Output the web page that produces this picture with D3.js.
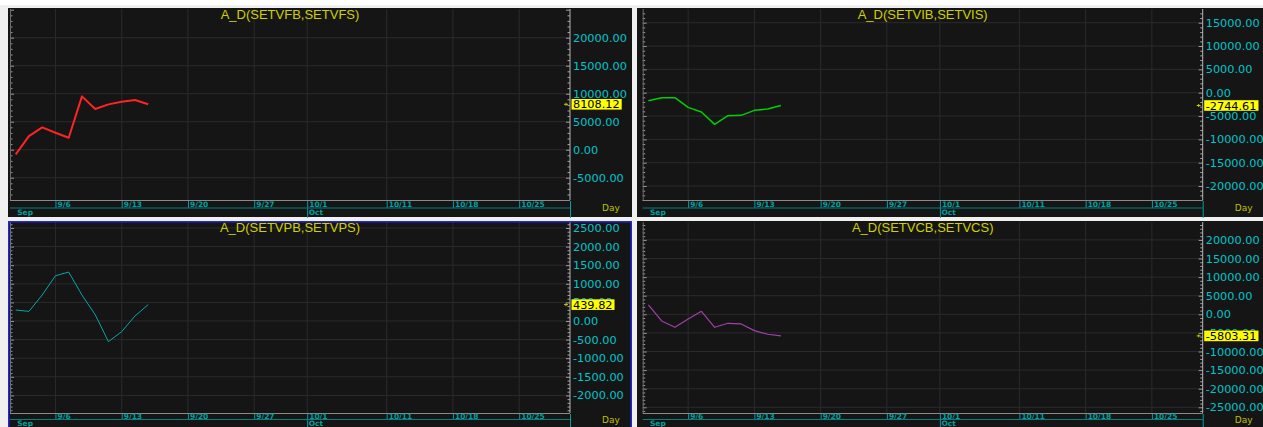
<!DOCTYPE html>
<html lang="en">
<head>
  <meta charset="UTF-8"/>
  <title>A_D panels</title>
  <script src="https://cdn.jsdelivr.net/npm/d3@7"></script>
  <style>
    html, body { margin: 0; padding: 0; background: #f0f0f0; overflow: hidden; }
    svg { display: block; }
  </style>
</head>
<body>
<svg id="chart" width="1263" height="427"></svg>
<script>
  // trading days that carry data
  const dates = ['9/1', '9/2', '9/3', '9/6', '9/7', '9/8', '9/9', '9/10', '9/13', '9/14', '9/15'];

  // series
  const vfbValues = [-833, 2440, 3988, 3036, 2143, 9524, 7262, 8095, 8571, 8869, 8108.12];
  const vibValues = [-1714, -1071, -1071, -3143, -4143, -6786, -4929, -4857, -3786, -3500, -2744.61];
  const vpbValues = [295, 259, 698, 1216, 1315, 698, 170, -555, -286, 134, 439.82];
  const vcbValues = [2504, -1789, -3488, -1252, 805, -3488, -2415, -2594, -4383, -5367, -5803.31];

  // axis labels
  const xTickLabels = ['9/6', '9/13', '9/20', '9/27', '10/1', '10/11', '10/18', '10/25'];
  const monthLabels = [['Sep', '9/1'], ['Oct', '10/1']];
  const vfTicks = [-5000, 0, 5000, 10000, 15000, 20000];
  const viTicks = [-20000, -15000, -10000, -5000, 0, 5000, 10000, 15000];
  const vpTicks = [-2000, -1500, -1000, -500, 0, 500, 1000, 1500, 2000, 2500];
  const vcTicks = [-25000, -20000, -15000, -10000, -5000, 0, 5000, 10000, 15000, 20000];

  // x axis runs over weekdays from 9/1 to 10/29
  const tradingDays = d3.timeDay.range(new Date(2021, 8, 1), new Date(2021, 9, 30))
    .filter(d => d.getDay() > 0 && d.getDay() < 6)
    .map(d => `${d.getMonth() + 1}/${d.getDate()}`);

  // band: [label baseline, line y, month baseline, Day baseline] below the plot
  const topBand = [7, 8, 15, 11];
  const bottomBand = [6, 6.5, 12.8, 10];

  const panels = [
    { title: 'A_D(SETVFB,SETVFS)', values: vfbValues, color: '#ff2424', lw: 2, ticks: vfTicks, minor: 1000,
      domain: [-8980, 25125], box: [8, 8, 624, 209], plot: [10, 9, 560, 191], band: topBand },
    { title: 'A_D(SETVIB,SETVIS)', values: vibValues, color: '#00d000', lw: 1.5, ticks: viTicks, minor: 1000,
      domain: [-23000, 17940], box: [637, 8, 626, 209], plot: [642.7, 9, 560, 191], band: topBand },
    { title: 'A_D(SETVPB,SETVPS)', values: vpbValues, color: '#00a8a8', lw: 1, ticks: vpTicks, minor: 100,
      domain: [-2473, 2661], box: [8, 221, 624, 206], plot: [10, 222, 560, 191], band: bottomBand, active: true },
    { title: 'A_D(SETVCB,SETVCS)', values: vcbValues, color: '#a040a8', lw: 1.2, ticks: vcTicks, minor: 1000,
      domain: [-26530, 24810], box: [637, 221, 626, 206], plot: [642.7, 222, 560, 191], band: bottomBand }
  ];

  const svg = d3.select('#chart');
  // plain hyphen for negatives, like the original terminal
  const fmt = d3.formatLocale({ decimal: '.', thousands: '', grouping: [3], currency: ['', ''], minus: '-' }).format('.2f');

  svg.append('rect').attr('x', 0).attr('y', 0).attr('width', 1263).attr('height', 5).attr('fill', '#ffffff');

  panels.forEach((p, pi) => {
    const [bx, by, bw, bh] = p.box;
    const [px, py, w, h] = p.plot;
    const [labY, lineY, monY, dayY] = p.band;

    svg.append('rect')
      .attr('x', bx).attr('y', by).attr('width', bw).attr('height', bh)
      .attr('fill', '#151515');

    const g = svg.append('g').attr('transform', `translate(${px}, ${py})`);

    const x = d3.scalePoint()
      .domain(tradingDays)
      .range([5.7, 5.7 + (tradingDays.length - 1) * 13.25]);

    const y = d3.scaleLinear()
      .domain(p.domain)
      .range([h, 0]);

    svg.append('clipPath').attr('id', `clip${pi}`)
      .append('rect').attr('width', w).attr('height', h);

    // grid
    g.selectAll('.hgrid')
      .data(p.ticks)
      .enter().append('line')
      .attr('x1', 0).attr('x2', w)
      .attr('y1', d => y(d)).attr('y2', d => y(d))
      .attr('stroke', '#2b2b2b');

    g.selectAll('.vgrid')
      .data(xTickLabels)
      .enter().append('line')
      .attr('x1', d => x(d)).attr('x2', d => x(d))
      .attr('y1', 0).attr('y2', h)
      .attr('stroke', '#2b2b2b');

    // minor ticks on both edges
    const minorTicks = d3.range(Math.ceil(p.domain[0] / p.minor) * p.minor, p.domain[1], p.minor);
    g.selectAll('.ltick')
      .data(minorTicks)
      .enter().append('line')
      .attr('x1', 0).attr('x2', d => (d % (p.minor * 5) === 0 ? 4 : 2.5))
      .attr('y1', d => y(d) + 0.5).attr('y2', d => y(d) + 0.5)
      .attr('stroke', '#9a9a9a');

    g.append('line')
      .attr('x1', 0.5).attr('x2', 0.5).attr('y1', 0).attr('y2', h)
      .attr('stroke', '#6a6a6a');

    g.selectAll('.rtick')
      .data(minorTicks)
      .enter().append('line')
      .attr('x1', d => (d % (p.minor * 5) === 0 ? w - 4 : w - 2.5)).attr('x2', w)
      .attr('y1', d => y(d) + 0.5).attr('y2', d => y(d) + 0.5)
      .attr('stroke', '#a0a0a0');

    g.append('line')
      .attr('x1', w).attr('x2', w).attr('y1', 0).attr('y2', h)
      .attr('stroke', '#b4b4b4');

    g.append('line')
      .attr('x1', 0).attr('x2', w).attr('y1', h + 0.5).attr('y2', h + 0.5)
      .attr('stroke', '#8a8a8a');

    // title
    g.append('text')
      .attr('x', w / 2).attr('y', 9.5)
      .attr('text-anchor', 'middle')
      .attr('font-family', 'Liberation Sans, Arial, sans-serif')
      .attr('font-size', '13px')
      .attr('fill', '#d0d000')
      .text(p.title);

    // series
    const line = d3.line()
      .x((d, i) => x(dates[i]))
      .y(d => y(d));

    g.append('path')
      .datum(p.values)
      .attr('clip-path', `url(#clip${pi})`)
      .attr('fill', 'none')
      .attr('stroke', p.color)
      .attr('stroke-width', p.lw)
      .attr('stroke-linejoin', 'round')
      .attr('d', line);

    // x axis band
    const teal = '#00a0a0';
    g.selectAll('.xtick')
      .data(xTickLabels)
      .enter().append('line')
      .attr('x1', d => x(d) + 0.5).attr('x2', d => x(d) + 0.5)
      .attr('y1', h + 1).attr('y2', d => (d === '10/1' ? h + 18 : h + lineY))
      .attr('stroke', teal);

    g.selectAll('.xlabel')
      .data(xTickLabels)
      .enter().append('text')
      .attr('x', d => x(d) + 2).attr('y', h + labY)
      .attr('font-family', 'DejaVu Sans')
      .attr('font-weight', 'bold')
      .attr('font-size', '7.5px')
      .attr('fill', teal)
      .text(d => d);

    g.append('line')
      .attr('x1', 0).attr('x2', w).attr('y1', h + lineY).attr('y2', h + lineY)
      .attr('stroke', '#008080');

    g.selectAll('.month')
      .data(monthLabels)
      .enter().append('text')
      .attr('x', d => x(d[1]) + 1.5).attr('y', h + monY)
      .attr('font-family', 'DejaVu Sans')
      .attr('font-weight', 'bold')
      .attr('font-size', '7.5px')
      .attr('fill', teal)
      .text(d => d[0]);

    g.append('line')
      .attr('x1', w + 0.5).attr('x2', w + 0.5).attr('y1', h + 1).attr('y2', h + 18)
      .attr('stroke', teal);

    g.append('text')
      .attr('x', w + 41).attr('y', h + dayY)
      .attr('text-anchor', 'middle')
      .attr('font-family', 'DejaVu Sans')
      .attr('font-size', '9px')
      .attr('fill', '#c0c000')
      .text('Day');

    // y labels on the right
    g.selectAll('.ylabel')
      .data(p.ticks)
      .enter().append('text')
      .attr('x', w + 3).attr('y', d => y(d))
      .attr('dy', '0.36em')
      .attr('font-family', 'DejaVu Sans')
      .attr('font-size', '11.3px')
      .attr('fill', '#00c4cc')
      .text(d => fmt(d));

    // last value marker
    const last = p.values[p.values.length - 1];
    const ly = y(last);
    const lastText = g.append('text')
      .attr('x', w + 3).attr('y', ly)
      .attr('dy', '0.36em')
      .attr('font-family', 'DejaVu Sans')
      .attr('font-size', '11.3px')
      .attr('fill', '#000000')
      .text(fmt(last));
    const tw = lastText.node().getComputedTextLength();
    g.insert('rect', () => lastText.node())
      .attr('x', w + 1.5).attr('y', ly - 5.3)
      .attr('width', tw + 3.5).attr('height', 10.6)
      .attr('fill', '#ffff00');

    g.append('line')
      .attr('x1', w - 6).attr('x2', w - 2).attr('y1', ly).attr('y2', ly)
      .attr('stroke', '#c8c800');
    g.append('line')
      .attr('x1', w - 4).attr('x2', w - 4).attr('y1', ly - 1.5).attr('y2', ly + 1.5)
      .attr('stroke', '#c8c800');

    if (p.active) {
      svg.append('rect')
        .attr('x', bx + 0.75).attr('y', by + 0.75)
        .attr('width', bw - 1.5).attr('height', bh + 2)
        .attr('fill', 'none')
        .attr('stroke', '#2424d8')
        .attr('stroke-width', 1.5);
    }
  });
</script>
</body>
</html>
